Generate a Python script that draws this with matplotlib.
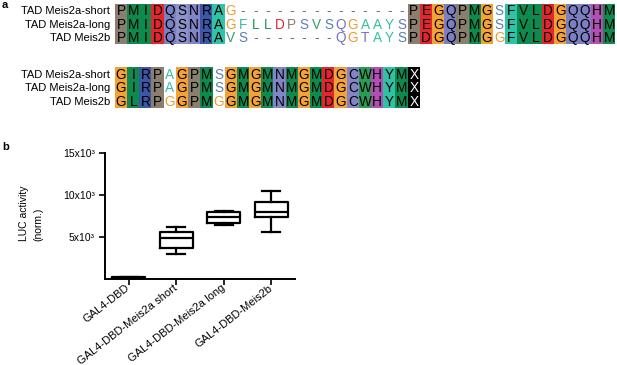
import matplotlib
matplotlib.use('Agg')
import matplotlib.pyplot as plt
from matplotlib.patches import Rectangle

plt.rcParams['font.family'] = ['Liberation Sans', 'DejaVu Sans']

# --- panel a: alignment ---
names = ['TAD Meis2a-short', 'TAD Meis2a-long', 'TAD Meis2b']
block1 = ['PMIDQSNRAG--------------PEGQPMGSFVLDGQQHM',
          'PMIDQSNRAGFLLDPSVSQGAAYSPEGQPMGSFVLDGQQHM',
          'PMIDQSNRAVS-------QGTAYSPDGQPMGGFVLDGQQHM']
block2 = ['GIRPAGPMSGMGMNMGMDGCWHYMX',
          'GIRPAGPMSGMGMNMGMDGCWHYMX',
          'GLRPGGPMGGMGMNMGMDGCWHYMX']

# --- panel b: box plot ---
groups = ['GAL4-DBD', 'GAL4-DBD-Meis2a short', 'GAL4-DBD-Meis2a long', 'GAL4-DBD-Meis2b']
whis_lo = [30, 2900, 6350, 5500]
q1 = [60, 3600, 6600, 7400]
med = [100, 4800, 7300, 8000]
q3 = [140, 5500, 8000, 9100]
whis_hi = [180, 6100, 8100, 10500]

# residue colours (shaded columns) and text colours (unshaded)
bg = {'P': '#8a7f6e', 'M': '#0f8a4f', 'I': '#0f8a4f', 'L': '#0f8a4f', 'V': '#0f8a4f',
      'W': '#2a9c52', 'D': '#e3262b', 'E': '#e3262b', 'Q': '#7c80c2', 'N': '#8184c6',
      'S': '#8d92ca', 'R': '#3d56a6', 'A': '#2fc4a8', 'F': '#2ec2a6', 'Y': '#2ec2a6',
      'G': '#f4a236', 'H': '#b050b2', 'C': '#8284c6', 'X': '#000000', 'T': '#8a7cc0'}
fg = {'G': '#f09a2a', 'V': '#2f9e72', 'S': '#5b80b8', 'F': '#35bfa2', 'L': '#1f9450',
      'D': '#e3262b', 'P': '#8a7f6e', 'Q': '#7070c0', 'A': '#35bfa2', 'Y': '#35bfa2',
      'T': '#7d6fbc', '-': '#707070'}

W, H = 617, 365
fig = plt.figure(figsize=(W / 100, H / 100), dpi=100)


def draw_block(ax, rows):
    ncol = len(rows[0])
    for c in range(ncol):
        col = [r[c] for r in rows]
        cls = {bg.get(ch) for ch in col}
        shaded = '-' not in col and len(cls) == 1
        for r, ch in enumerate(col):
            if shaded:
                ax.add_patch(Rectangle((c - 0.01, r - 0.01), 1.02, 1.02, facecolor=bg[ch], lw=0))
                tc = 'white' if ch == 'X' else 'black'
            else:
                tc = fg.get(ch, '#707070')
            ax.text(c + 0.5, r + 0.55, ch, ha='center', va='center', fontsize=9.8, color=tc)
    for r, n in enumerate(names):
        ax.text(-0.4, r + 0.55, n, ha='right', va='center', fontsize=8)
    ax.set_xlim(0, ncol)
    ax.set_ylim(3, 0)
    ax.axis('off')


cw = 12.2
ax1 = fig.add_axes([115 / W, 1 - 44 / H, 41 * cw / W, 40 / H])
draw_block(ax1, block1)
ax2 = fig.add_axes([115 / W, 1 - 108 / H, 25 * cw / W, 41 / H])
draw_block(ax2, block2)

fig.text(2 / W, 1 - 5 / H, 'a', fontsize=8, fontweight='bold', va='center')
fig.text(2 / W, 1 - 147 / H, 'b', fontsize=8, fontweight='bold', va='center')

ax = fig.add_axes([105 / W, (H - 278.5) / H, 190 / W, 125.5 / H])
stats = []
for i in range(4):
    stats.append(dict(whislo=whis_lo[i], q1=q1[i], med=med[i], q3=q3[i],
                      whishi=whis_hi[i], label=groups[i]))
lp = dict(color='black', lw=1.6)
ax.bxp(stats, positions=range(4), widths=0.7, capwidths=0.38, showfliers=False,
       boxprops=lp, medianprops=lp, whiskerprops=lp, capprops=lp)
ax.set_xlim(-0.5, 3.5)
ax.set_ylim(0, 15000)
ax.set_yticks([5000, 10000, 15000])
ax.set_yticklabels(['5x10³', '10x10³', '15x10³'], fontsize=7.5)
ax.set_xticks(range(4))
ax.set_xticklabels(groups, rotation=38, ha='right', va='center', rotation_mode='anchor', fontsize=8)
for s in ['top', 'right']:
    ax.spines[s].set_visible(False)
for s in ['left', 'bottom']:
    ax.spines[s].set_linewidth(1.4)
ax.tick_params(width=1.2, length=4)
ax.tick_params(axis='x', pad=2)
fig.text(31 / W, (H - 213) / H, 'LUC activity\n(norm.)', rotation=90, ha='center', va='center',
         multialignment='left', fontsize=7.5, linespacing=1.5)

fig.savefig('out.png', dpi=100)
